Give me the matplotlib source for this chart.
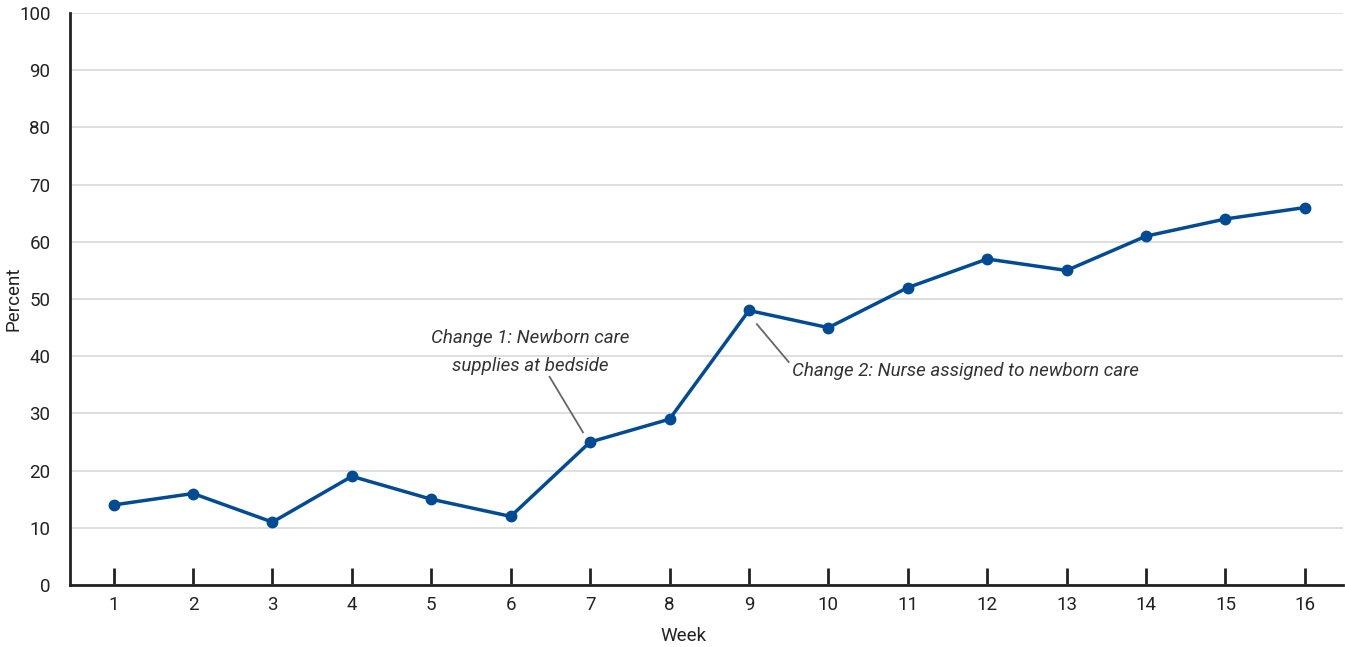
import matplotlib
matplotlib.use("Agg")
import matplotlib.pyplot as plt
from matplotlib import font_manager

weeks = list(range(1, 17))
percent = [14, 16, 11, 19, 15, 12, 25, 29, 48, 45, 52, 57, 55, 61, 64, 66]
yticks = [0, 10, 20, 30, 40, 50, 60, 70, 80, 90, 100]
note1 = "Change 1: Newborn care\nsupplies at bedside"
note2 = "Change 2: Nurse assigned to newborn care"

names = {f.name for f in font_manager.fontManager.ttflist}
fam = [f for f in ["Liberation Sans Narrow", "Roboto", "DejaVu Sans"] if f in names]
plt.rcParams['font.family'] = fam

W, H = 1345, 647
fig = plt.figure(figsize=(13.45, 6.47), dpi=100)
ax = fig.add_axes([0.052, 0.0958, 0.9465, 0.884])
color = "#004b93"
ax.plot(weeks, percent, color=color, lw=2.5, marker='o', ms=7.5, zorder=3)
ax.set_xlim(0.45, 16.48)
ax.set_ylim(0, 100)
ax.set_xticks(weeks)
ax.set_yticks(yticks)
ax.grid(axis='y', color='#d8d8d8', lw=1.2)
ax.set_axisbelow(True)
for s in ['top', 'right']:
    ax.spines[s].set_visible(False)
for s in ['left', 'bottom']:
    ax.spines[s].set_linewidth(2)
    ax.spines[s].set_color('#222222')
ax.tick_params(axis='x', direction='in', length=12, width=2, color='#222222',
               labelsize=13.5, pad=8, labelcolor='#222222')
ax.tick_params(axis='y', length=0, labelsize=13.5, pad=14, labelcolor='#222222')
fig.text(684 / W, 1 - 636 / H, "Week", ha='center', va='center',
         fontsize=13.5, color='#222222')
fig.text(14 / W, 1 - 299 / H, "Percent", ha='center', va='center',
         rotation=90, fontsize=13.5, color='#222222')

ax.plot([6.49, 6.91], [36.4, 26.7], color='#666666', lw=1.3, zorder=2)
ax.text(6.25, 40.7, note1, ha='center', va='center', fontsize=13.5,
        style='italic', color='#333333', linespacing=1.75)
ax.plot([9.10, 9.50], [45.6, 39.0], color='#666666', lw=1.3, zorder=2)
ax.text(9.54, 37.4, note2, ha='left', va='center', fontsize=13.5,
        style='italic', color='#333333')

fig.savefig("out.png", dpi=100)
